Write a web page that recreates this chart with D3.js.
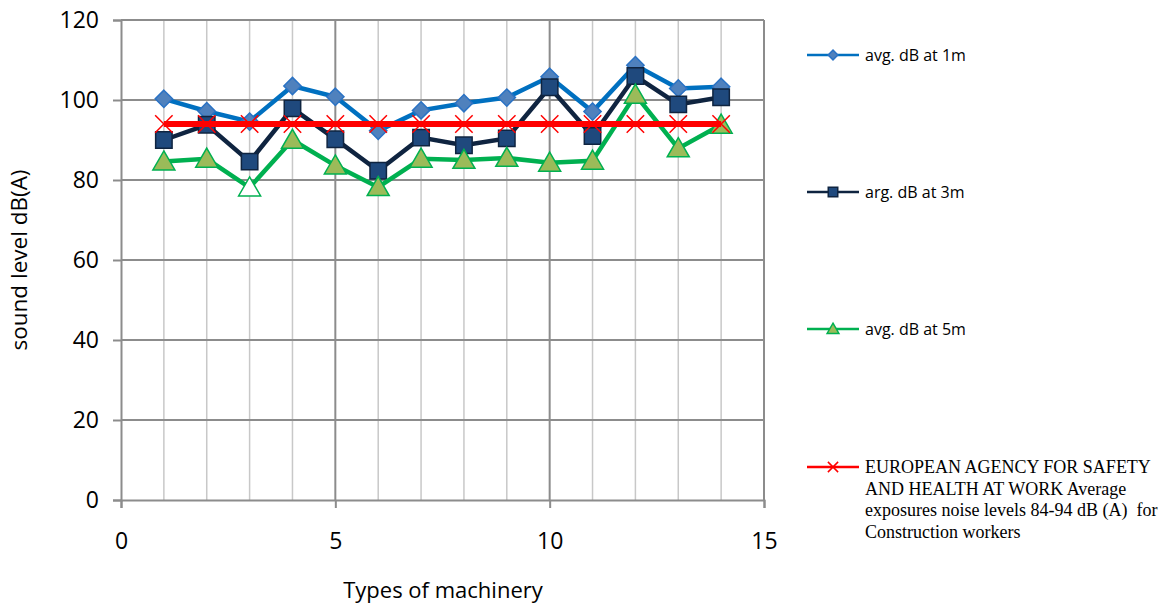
<!DOCTYPE html>
<html>
<head>
<meta charset="utf-8">
<script src="https://cdn.jsdelivr.net/npm/d3@7"></script>
<style>
  body { margin: 0; background: #fff; }
  text { font-family: "Open Sans", "Noto Sans", sans-serif; }
</style>
</head>
<body>
<div id="chart"></div>
<script>
// data
const machinery = [1, 2, 3, 4, 5, 6, 7, 8, 9, 10, 11, 12, 13, 14];
const avg1m = [100.3, 97.2, 94.6, 103.5, 100.8, 92.3, 97.4, 99.2, 100.6, 105.8, 97.1, 108.7, 102.9, 103.3];
const avg3m = [90, 93.8, 84.6, 97.9, 90.2, 82.3, 90.6, 88.7, 90.4, 103.2, 91, 106, 98.9, 100.7];
const avg5m = [84.6, 85.3, 78.1, 90, 83.6, 78.2, 85.3, 85, 85.5, 84.3, 84.8, 101.3, 87.9, 93.8];
const euLimit = [94, 94, 94, 94, 94, 94, 94, 94, 94, 94, 94, 94, 94, 94];
const hollow5m = [3]; // this triangle is drawn without fill in the original
const xTicks = [0, 5, 10, 15];
const yTicks = [0, 20, 40, 60, 80, 100, 120];
const seriesNames = [
  "avg. dB at 1m",
  "arg. dB at 3m",
  "avg. dB at 5m",
  "EUROPEAN AGENCY FOR SAFETY|AND HEALTH AT WORK Average|exposures noise levels 84-94 dB (A)  for|Construction workers",
];

const width = 1175;
const height = 608;

const svg = d3
  .select("#chart")
  .append("svg")
  .attr("width", width)
  .attr("height", height);

const x = d3.scaleLinear().domain([0, 15]).range([121, 764]);
const y = d3.scaleLinear().domain([0, 120]).range([500, 20]);

// vertical grid lines (every unit, darker at major ticks)
svg
  .append("g")
  .selectAll("line")
  .data(d3.range(1, 16))
  .enter()
  .append("line")
  .attr("x1", (d) => x(d))
  .attr("x2", (d) => x(d))
  .attr("y1", y(0))
  .attr("y2", y(120))
  .attr("stroke", (d) => (d % 5 === 0 ? "#8c8c8c" : "#c8c8c8"))
  .attr("stroke-width", (d) => (d % 5 === 0 ? 2 : 1.5));

// horizontal grid lines
svg
  .append("g")
  .selectAll("line")
  .data(yTicks.slice(1))
  .enter()
  .append("line")
  .attr("x1", x(0))
  .attr("x2", x(15))
  .attr("y1", (d) => y(d))
  .attr("y2", (d) => y(d))
  .attr("stroke", "#8c8c8c")
  .attr("stroke-width", 2);

// axes
const yAxis = svg
  .append("g")
  .attr("transform", `translate(${x(0)},0)`)
  .call(d3.axisLeft(y).tickValues(yTicks).tickSize(8).tickPadding(14));
const xAxis = svg
  .append("g")
  .attr("transform", `translate(0,${y(0)})`)
  .call(d3.axisBottom(x).tickValues(xTicks).tickSize(8).tickPadding(25));

[yAxis, xAxis].forEach((ax) => {
  ax.select(".domain").attr("stroke", "#8c8c8c").attr("stroke-width", 2);
  ax.selectAll(".tick line").attr("stroke", "#8c8c8c").attr("stroke-width", 2);
  ax.selectAll(".tick text")
    .attr("fill", "#000")
    .style("font-size", "23px")
    .style("font-family", "'Open Sans', sans-serif");
});

// axis titles
svg
  .append("text")
  .attr("transform", `translate(27,${y(60)}) rotate(-90)`)
  .attr("text-anchor", "middle")
  .style("font-size", "22.5px")
  .text("sound level dB(A)");

svg
  .append("text")
  .attr("x", 443)
  .attr("y", 598)
  .attr("text-anchor", "middle")
  .style("font-size", "22px")
  .text("Types of machinery");

const line = (vals) =>
  d3
    .line()
    .x((d, i) => x(machinery[i]))
    .y((d) => y(d))(vals);

// markers
const diamond = d3.symbol().type(d3.symbolDiamond2).size(190);
const square = d3.symbol().type(d3.symbolSquare).size(270);
const triangle = d3.symbol().type(d3.symbolTriangle).size(210);
const cross = d3.symbol().type(d3.symbolX).size(200);

// 1m
svg.append("path").attr("d", line(avg1m)).attr("fill", "none").attr("stroke", "#0070c0").attr("stroke-width", 4.5);
svg
  .append("g")
  .selectAll("path")
  .data(avg1m)
  .enter()
  .append("path")
  .attr("transform", (d, i) => `translate(${x(machinery[i])},${y(d)})`)
  .attr("d", diamond)
  .attr("fill", "#4f81bd")
  .attr("stroke", "#2a72c4")
  .attr("stroke-width", 1.5);

// 3m
svg.append("path").attr("d", line(avg3m)).attr("fill", "none").attr("stroke", "#0f2440").attr("stroke-width", 4.5);
svg
  .append("g")
  .selectAll("path")
  .data(avg3m)
  .enter()
  .append("path")
  .attr("transform", (d, i) => `translate(${x(machinery[i])},${y(d)})`)
  .attr("d", square)
  .attr("fill", "#1f497d")
  .attr("stroke", "#0f2440")
  .attr("stroke-width", 1.5);

// 5m
svg.append("path").attr("d", line(avg5m)).attr("fill", "none").attr("stroke", "#00b050").attr("stroke-width", 4.5);
svg
  .append("g")
  .selectAll("path")
  .data(avg5m)
  .enter()
  .append("path")
  .attr("transform", (d, i) => `translate(${x(machinery[i])},${y(d) + 2})`)
  .attr("d", triangle)
  .attr("fill", (d, i) => (hollow5m.includes(machinery[i]) ? "#fff" : "#9bbb59"))
  .attr("stroke", "#00b050")
  .attr("stroke-width", 1.5);

// EU reference
svg.append("path").attr("d", line(euLimit)).attr("fill", "none").attr("stroke", "#ff0000").attr("stroke-width", 6);
svg
  .append("g")
  .selectAll("path")
  .data(euLimit)
  .enter()
  .append("path")
  .attr("transform", (d, i) => `translate(${x(machinery[i])},${y(d)})`)
  .attr("d", cross)
  .attr("fill", "none")
  .attr("stroke", "#ff0000")
  .attr("stroke-width", 1.5);

// legend
const legendY = [55, 192, 329, 467];
const legendStyle = [
  { stroke: "#0070c0", symbol: d3.symbol().type(d3.symbolDiamond2).size(60), fill: "#4f81bd", mstroke: "#2a72c4" },
  { stroke: "#0f2440", symbol: d3.symbol().type(d3.symbolSquare).size(90), fill: "#1f497d", mstroke: "#0f2440" },
  { stroke: "#00b050", symbol: d3.symbol().type(d3.symbolTriangle).size(60), fill: "#9bbb59", mstroke: "#00b050" },
  { stroke: "#ff0000", symbol: d3.symbol().type(d3.symbolX).size(70), fill: "none", mstroke: "#ff0000" },
];

const legend = svg
  .append("g")
  .selectAll("g")
  .data(seriesNames)
  .enter()
  .append("g")
  .attr("transform", (d, i) => `translate(0,${legendY[i]})`);

legend
  .append("line")
  .attr("x1", 807)
  .attr("x2", 859)
  .attr("stroke", (d, i) => legendStyle[i].stroke)
  .attr("stroke-width", 2.5);

legend
  .append("path")
  .attr("transform", (d, i) => `translate(833,${i === 2 ? 1 : 0})`)
  .attr("d", (d, i) => legendStyle[i].symbol())
  .attr("fill", (d, i) => legendStyle[i].fill)
  .attr("stroke", (d, i) => legendStyle[i].mstroke)
  .attr("stroke-width", 1.5);

legend.each(function (d, i) {
  const lines = d.split("|");
  const t = d3
    .select(this)
    .append("text")
    .attr("x", 865)
    .attr("y", 6)
    .style("white-space", "pre")
    .style("font-size", i === 3 ? "18px" : "16px")
    .style("font-family", i === 3 ? "'Liberation Serif', 'Times New Roman', serif" : "'Open Sans', sans-serif");
  lines.forEach((l, j) => {
    t.append("tspan")
      .attr("x", 865)
      .attr("dy", j === 0 ? 0 : 21.5)
      .text(l);
  });
});
</script>
</body>
</html>
